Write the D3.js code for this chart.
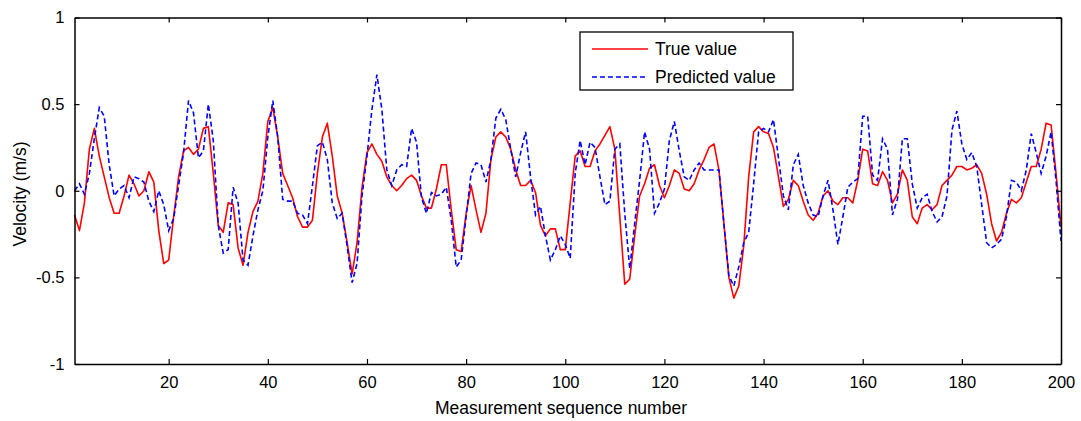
<!DOCTYPE html>
<html>
<head>
<meta charset="utf-8">
<script src="https://cdn.jsdelivr.net/npm/d3@7"></script>
<style>
  html, body { margin: 0; padding: 0; background: #fff; }
  svg { display: block; font-family: Arial, "Liberation Sans", sans-serif; }
</style>
</head>
<body>
<svg id="chart" width="1081" height="421"></svg>
<script>
(function () {
  "use strict";

  var trueValue = [
    -0.14, -0.23, -0.07, 0.24, 0.36, 0.2, 0.08, -0.04, -0.13, -0.13,
    -0.03, 0.09, 0.04, -0.03, 0.0, 0.11, 0.05, -0.23, -0.42, -0.4,
    -0.15, 0.08, 0.23, 0.25, 0.21, 0.24, 0.36, 0.37, 0.1, -0.2,
    -0.24, -0.07, -0.08, -0.33, -0.43, -0.24, -0.12, -0.06, 0.1, 0.4,
    0.48, 0.31, 0.1, 0.03, -0.04, -0.15, -0.21, -0.21, -0.17, 0.1,
    0.31, 0.39, 0.2, -0.03, -0.13, -0.3, -0.48, -0.3, 0.02, 0.22,
    0.27, 0.21, 0.17, 0.08, 0.03, 0.0, 0.03, 0.07, 0.09, 0.06,
    -0.03, -0.1, -0.1, 0.01, 0.15, 0.15, -0.11, -0.34, -0.35, -0.13,
    0.03, -0.11, -0.24, -0.13, 0.18, 0.31, 0.34, 0.31, 0.24, 0.12,
    0.03, 0.03, 0.06, -0.01, -0.2, -0.26, -0.22, -0.22, -0.34, -0.34,
    -0.07, 0.2, 0.23, 0.14, 0.14, 0.23, 0.27, 0.32, 0.37, 0.24,
    -0.15, -0.54, -0.51, -0.26, -0.03, 0.04, 0.13, 0.15, 0.03, -0.04,
    0.03, 0.12, 0.1, 0.01, 0.0, 0.04, 0.12, 0.18, 0.25, 0.27,
    0.12, -0.19, -0.5, -0.62, -0.55, -0.32, 0.08, 0.34, 0.37, 0.34,
    0.33, 0.25, 0.08, -0.09, -0.05, 0.06, 0.03, -0.06, -0.14, -0.17,
    -0.13, -0.03, 0.0, -0.06, -0.08, -0.04, -0.04, -0.07, 0.06, 0.24,
    0.23, 0.04, 0.03, 0.11, 0.06, -0.07, -0.02, 0.12, 0.06, -0.15,
    -0.19, -0.1, -0.08, -0.11, -0.08, 0.03, 0.06, 0.09, 0.14, 0.14,
    0.12, 0.13, 0.15, 0.1, -0.02, -0.19, -0.29, -0.24, -0.13, -0.05,
    -0.07, -0.04, 0.05, 0.14, 0.14, 0.24, 0.39, 0.38, 0.1, -0.21
  ];

  var predictedValue = [
    0.0, 0.04, -0.02, 0.1, 0.3, 0.48, 0.43, 0.15, -0.03, 0.01,
    0.03, -0.04, 0.08, 0.07, 0.05, -0.06, -0.12, 0.0, -0.08, -0.23,
    -0.16, 0.03, 0.22, 0.52, 0.45, 0.19, 0.23, 0.5, 0.29, -0.2,
    -0.36, -0.34, 0.02, -0.07, -0.4, -0.43, -0.26, -0.11, 0.0, 0.31,
    0.52, 0.31, -0.05, -0.06, -0.06, -0.13, -0.14, -0.19, 0.03, 0.26,
    0.28, 0.18, -0.07, -0.16, -0.13, -0.32, -0.53, -0.42, -0.03, 0.2,
    0.47, 0.67, 0.47, 0.12, 0.03, 0.12, 0.15, 0.14, 0.36, 0.28,
    -0.04, -0.13, -0.01, -0.03, -0.02, 0.02, -0.17, -0.44, -0.4, -0.15,
    0.1, 0.16, 0.15, 0.05, 0.18, 0.42, 0.47, 0.41, 0.24, 0.08,
    0.22, 0.34, 0.08, -0.14, -0.09, -0.26, -0.4, -0.34, -0.26, -0.31,
    -0.39, 0.1, 0.29, 0.15, 0.28, 0.25, 0.08, -0.08, -0.06, 0.24,
    0.27, -0.13, -0.45, -0.19, 0.06, 0.34, 0.24, -0.13, -0.07, 0.01,
    0.29, 0.4, 0.23, 0.08, 0.06, 0.12, 0.16, 0.12, 0.12, 0.12,
    0.12, -0.19, -0.49, -0.55, -0.44, -0.3, -0.24, 0.04, 0.34, 0.36,
    0.34, 0.41, 0.19, -0.03, -0.11, 0.15, 0.21, 0.03, -0.07, -0.14,
    -0.15, -0.03, 0.06, -0.11, -0.31, -0.15, 0.02, 0.05, 0.07, 0.43,
    0.43, 0.09, 0.06, 0.3, 0.24, -0.14, -0.05, 0.3, 0.3, 0.04,
    -0.1, -0.04, -0.02, -0.12, -0.18, -0.15, -0.03, 0.35, 0.46, 0.27,
    0.18, 0.22, 0.14, -0.08, -0.3, -0.33, -0.31, -0.28, -0.15, 0.06,
    0.05, 0.0, 0.12, 0.33, 0.22, 0.1, 0.2, 0.34, 0.06, -0.29
  ];

  var xTicks = [20, 40, 60, 80, 100, 120, 140, 160, 180, 200];
  var yTicks = [-1, -0.5, 0, 0.5, 1];
  var yTickLabels = ["-1", "-0.5", "0", "0.5", "1"];
  var seriesNames = ["True value", "Predicted value"];

  var left = 74.5, right = 1061, top = 17.5, bottom = 364;
  var svg = d3.select("#chart");

  var x = d3.scaleLinear().domain([1, 200]).range([left, right]);
  var y = d3.scaleLinear().domain([-1, 1]).range([bottom, top]);

  var line = d3.line()
    .x(function (d, i) { return x(i + 1); })
    .y(function (d) { return y(d); });

  var plot = svg.append("g");

  plot.append("path")
    .datum(trueValue)
    .attr("fill", "none")
    .attr("stroke", "#ff0000")
    .attr("stroke-width", 1.6)
    .attr("stroke-linejoin", "round")
    .attr("d", line);

  plot.append("path")
    .datum(predictedValue)
    .attr("fill", "none")
    .attr("stroke", "#0000ff")
    .attr("stroke-width", 1.6)
    .attr("stroke-dasharray", "5,3")
    .attr("d", line);

  // axes, ticks point inward like matlab
  var tickLen = 5;
  var bottomAxis = d3.axisBottom(x).tickValues(xTicks).tickSizeInner(-tickLen).tickSizeOuter(0).tickPadding(12);
  var topAxis = d3.axisTop(x).tickValues(xTicks).tickSizeInner(-tickLen).tickSizeOuter(0).tickFormat("");
  var leftAxis = d3.axisLeft(y).tickValues(yTicks).tickSizeInner(-tickLen).tickSizeOuter(0).tickPadding(10)
    .tickFormat(function (d, i) { return yTickLabels[i]; });
  var rightAxis = d3.axisRight(y).tickValues(yTicks).tickSizeInner(-tickLen).tickSizeOuter(0).tickFormat("");

  function styleAxis(g) {
    g.select(".domain").attr("stroke", "#000").attr("stroke-width", 1.5);
    g.selectAll(".tick line").attr("stroke", "#000").attr("stroke-width", 1.2);
    g.selectAll(".tick text").attr("fill", "#000").style("font-size", "16.5px")
      .style("font-family", "Arial, 'Liberation Sans', sans-serif");
  }

  svg.append("g").attr("transform", "translate(0," + bottom + ")").call(bottomAxis).call(styleAxis);
  svg.append("g").attr("transform", "translate(0," + top + ")").call(topAxis).call(styleAxis);
  svg.append("g").attr("transform", "translate(" + left + ",0)").call(leftAxis).call(styleAxis);
  svg.append("g").attr("transform", "translate(" + right + ",0)").call(rightAxis).call(styleAxis);

  svg.append("text")
    .attr("x", 561)
    .attr("y", 414)
    .attr("text-anchor", "middle")
    .style("font-size", "17.5px")
    .text("Measurement sequence number");

  svg.append("text")
    .attr("transform", "translate(26,194) rotate(-90)")
    .attr("text-anchor", "middle")
    .style("font-size", "17.5px")
    .text("Velocity (m/s)");

  // legend
  var legend = svg.append("g").attr("transform", "translate(580,32)");
  legend.append("rect")
    .attr("width", 213).attr("height", 58)
    .attr("fill", "#fff").attr("stroke", "#000").attr("stroke-width", 1.3);
  var styles = [
    { color: "#ff0000", dash: null },
    { color: "#0000ff", dash: "5,3" }
  ];
  seriesNames.forEach(function (name, i) {
    var row = legend.append("g").attr("transform", "translate(0," + (17 + i * 28) + ")");
    row.append("line")
      .attr("x1", 12).attr("x2", 68)
      .attr("stroke", styles[i].color).attr("stroke-width", 1.6)
      .attr("stroke-dasharray", styles[i].dash);
    row.append("text")
      .attr("x", 75).attr("y", 6)
      .style("font-size", "17.5px")
      .text(name);
  });
})();
</script>
</body>
</html>
